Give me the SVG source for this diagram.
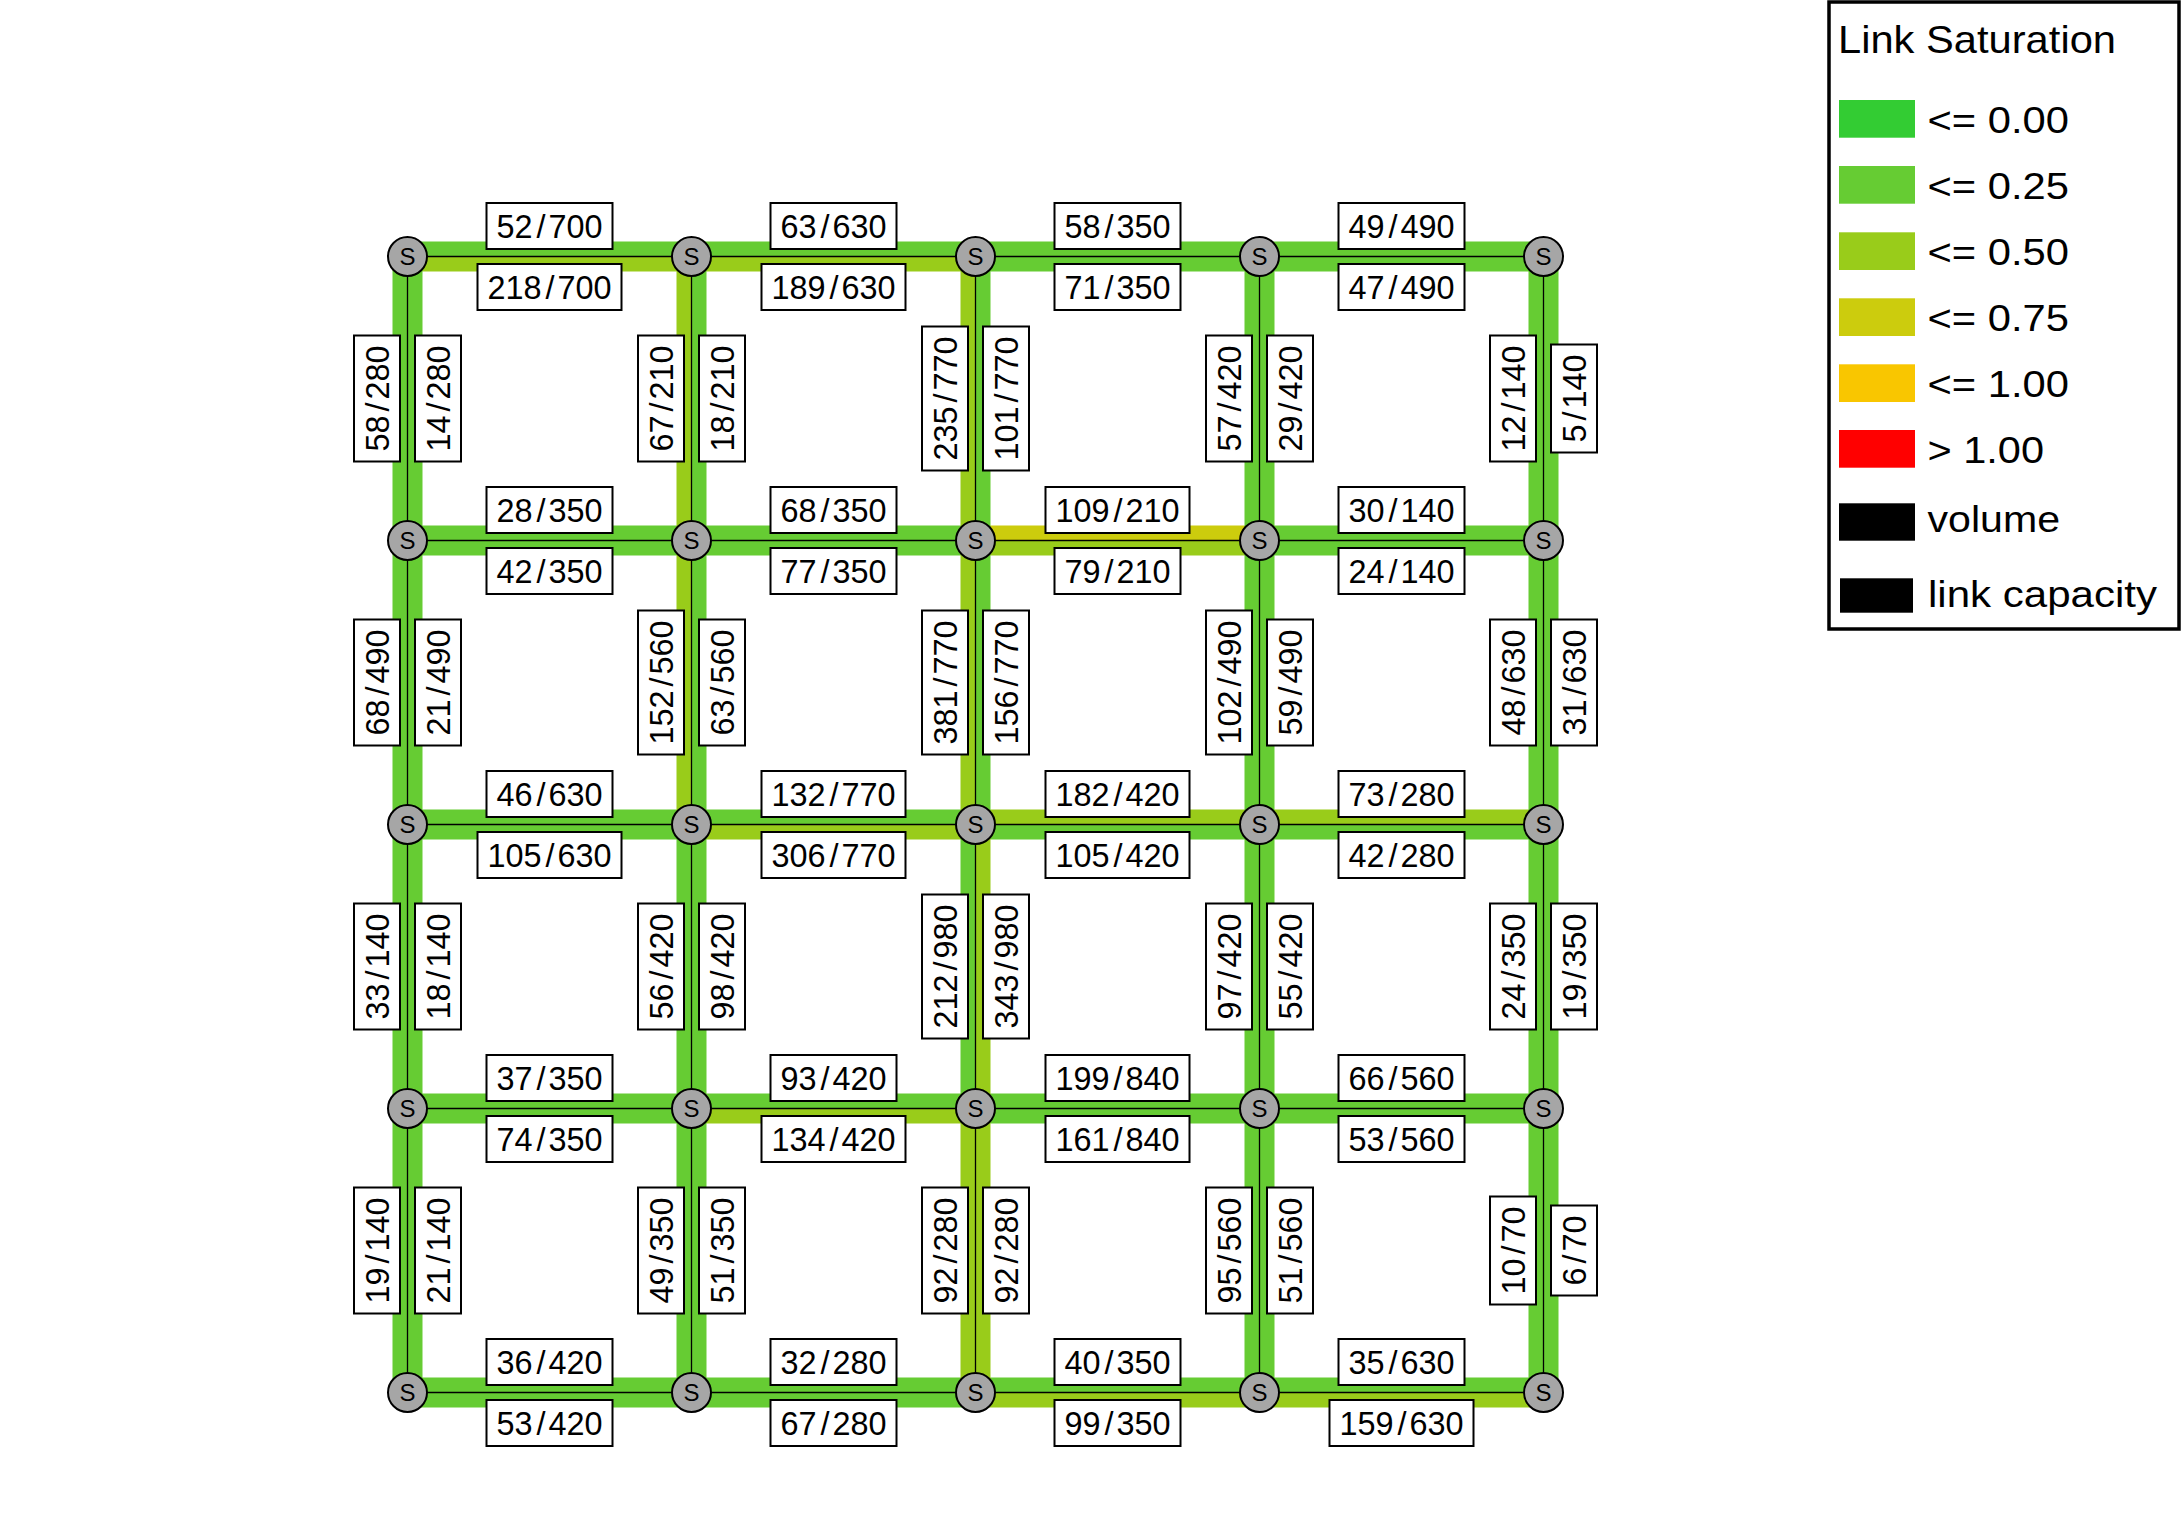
<svg xmlns="http://www.w3.org/2000/svg" width="2184" height="1534" viewBox="0 0 2184 1534">
<style>
text{font-family:"Liberation Sans",Arial,sans-serif;fill:#000}
.c1{fill:#66CC33}.c2{fill:#99CC1A}.c3{fill:#CCCC0D}
.lb rect{fill:#fff;stroke:#000;stroke-width:2}
.lb text{font-size:32.4px;text-anchor:middle}
.nd circle{fill:#a6a6a6;stroke:#000;stroke-width:2}
.nd text{font-size:24px;text-anchor:middle}
.lg text{font-size:37.5px}
.sw{width:76px;height:37.7px}
</style>
<rect width="2184" height="1534" fill="#fff"/>
<g id="connectors">
<g id="bands">
<!-- row 0 -->
<rect class="c1" x="407.5" y="241.5" width="284" height="15"/><rect class="c2" x="407.5" y="256.5" width="284" height="15"/>
<rect class="c1" x="691.5" y="241.5" width="284" height="15"/><rect class="c2" x="691.5" y="256.5" width="284" height="15"/>
<rect class="c1" x="975.5" y="241.5" width="284" height="15"/><rect class="c1" x="975.5" y="256.5" width="284" height="15"/>
<rect class="c1" x="1259.5" y="241.5" width="284" height="15"/><rect class="c1" x="1259.5" y="256.5" width="284" height="15"/>
<!-- row 1 -->
<rect class="c1" x="407.5" y="525.5" width="284" height="15"/><rect class="c1" x="407.5" y="540.5" width="284" height="15"/>
<rect class="c1" x="691.5" y="525.5" width="284" height="15"/><rect class="c1" x="691.5" y="540.5" width="284" height="15"/>
<rect class="c3" x="975.5" y="525.5" width="284" height="15"/><rect class="c2" x="975.5" y="540.5" width="284" height="15"/>
<rect class="c1" x="1259.5" y="525.5" width="284" height="15"/><rect class="c1" x="1259.5" y="540.5" width="284" height="15"/>
<!-- row 2 -->
<rect class="c1" x="407.5" y="809.5" width="284" height="15"/><rect class="c1" x="407.5" y="824.5" width="284" height="15"/>
<rect class="c1" x="691.5" y="809.5" width="284" height="15"/><rect class="c2" x="691.5" y="824.5" width="284" height="15"/>
<rect class="c2" x="975.5" y="809.5" width="284" height="15"/><rect class="c1" x="975.5" y="824.5" width="284" height="15"/>
<rect class="c2" x="1259.5" y="809.5" width="284" height="15"/><rect class="c1" x="1259.5" y="824.5" width="284" height="15"/>
<!-- row 3 -->
<rect class="c1" x="407.5" y="1093.5" width="284" height="15"/><rect class="c1" x="407.5" y="1108.5" width="284" height="15"/>
<rect class="c1" x="691.5" y="1093.5" width="284" height="15"/><rect class="c2" x="691.5" y="1108.5" width="284" height="15"/>
<rect class="c1" x="975.5" y="1093.5" width="284" height="15"/><rect class="c1" x="975.5" y="1108.5" width="284" height="15"/>
<rect class="c1" x="1259.5" y="1093.5" width="284" height="15"/><rect class="c1" x="1259.5" y="1108.5" width="284" height="15"/>
<!-- row 4 -->
<rect class="c1" x="407.5" y="1377.5" width="284" height="15"/><rect class="c1" x="407.5" y="1392.5" width="284" height="15"/>
<rect class="c1" x="691.5" y="1377.5" width="284" height="15"/><rect class="c1" x="691.5" y="1392.5" width="284" height="15"/>
<rect class="c1" x="975.5" y="1377.5" width="284" height="15"/><rect class="c2" x="975.5" y="1392.5" width="284" height="15"/>
<rect class="c1" x="1259.5" y="1377.5" width="284" height="15"/><rect class="c2" x="1259.5" y="1392.5" width="284" height="15"/>
<!-- verticals rows 0-1 -->
<rect class="c1" x="392.5" y="256.5" width="15" height="284"/><rect class="c1" x="407.5" y="256.5" width="15" height="284"/>
<rect class="c2" x="676.5" y="256.5" width="15" height="284"/><rect class="c1" x="691.5" y="256.5" width="15" height="284"/>
<rect class="c2" x="960.5" y="256.5" width="15" height="284"/><rect class="c1" x="975.5" y="256.5" width="15" height="284"/>
<rect class="c1" x="1244.5" y="256.5" width="15" height="284"/><rect class="c1" x="1259.5" y="256.5" width="15" height="284"/>
<rect class="c1" x="1528.5" y="256.5" width="15" height="284"/><rect class="c1" x="1543.5" y="256.5" width="15" height="284"/>
<!-- rows 1-2 -->
<rect class="c1" x="392.5" y="540.5" width="15" height="284"/><rect class="c1" x="407.5" y="540.5" width="15" height="284"/>
<rect class="c2" x="676.5" y="540.5" width="15" height="284"/><rect class="c1" x="691.5" y="540.5" width="15" height="284"/>
<rect class="c2" x="960.5" y="540.5" width="15" height="284"/><rect class="c1" x="975.5" y="540.5" width="15" height="284"/>
<rect class="c1" x="1244.5" y="540.5" width="15" height="284"/><rect class="c1" x="1259.5" y="540.5" width="15" height="284"/>
<rect class="c1" x="1528.5" y="540.5" width="15" height="284"/><rect class="c1" x="1543.5" y="540.5" width="15" height="284"/>
<!-- rows 2-3 -->
<rect class="c1" x="392.5" y="824.5" width="15" height="284"/><rect class="c1" x="407.5" y="824.5" width="15" height="284"/>
<rect class="c1" x="676.5" y="824.5" width="15" height="284"/><rect class="c1" x="691.5" y="824.5" width="15" height="284"/>
<rect class="c1" x="960.5" y="824.5" width="15" height="284"/><rect class="c2" x="975.5" y="824.5" width="15" height="284"/>
<rect class="c1" x="1244.5" y="824.5" width="15" height="284"/><rect class="c1" x="1259.5" y="824.5" width="15" height="284"/>
<rect class="c1" x="1528.5" y="824.5" width="15" height="284"/><rect class="c1" x="1543.5" y="824.5" width="15" height="284"/>
<!-- rows 3-4 -->
<rect class="c1" x="392.5" y="1108.5" width="15" height="284"/><rect class="c1" x="407.5" y="1108.5" width="15" height="284"/>
<rect class="c1" x="676.5" y="1108.5" width="15" height="284"/><rect class="c1" x="691.5" y="1108.5" width="15" height="284"/>
<rect class="c2" x="960.5" y="1108.5" width="15" height="284"/><rect class="c2" x="975.5" y="1108.5" width="15" height="284"/>
<rect class="c1" x="1244.5" y="1108.5" width="15" height="284"/><rect class="c1" x="1259.5" y="1108.5" width="15" height="284"/>
<rect class="c1" x="1528.5" y="1108.5" width="15" height="284"/><rect class="c1" x="1543.5" y="1108.5" width="15" height="284"/>
</g>
<path id="centerlines" fill="none" stroke="#000" stroke-width="1.3" d="M407.5 256.5H1543.5M407.5 540.5H1543.5M407.5 824.5H1543.5M407.5 1108.5H1543.5M407.5 1392.5H1543.5M407.5 256.5V1392.5M691.5 256.5V1392.5M975.5 256.5V1392.5M1259.5 256.5V1392.5M1543.5 256.5V1392.5"/>
<g id="labels" class="lb">
<!-- row 0 -->
<g transform="translate(549.5,226)"><rect x="-63" y="-23" width="126" height="46"/><text y="11.8">52<tspan dx="4">/</tspan><tspan dx="3">700</tspan></text></g>
<g transform="translate(549.5,287)"><rect x="-72" y="-23" width="144" height="46"/><text y="11.8">218<tspan dx="4">/</tspan><tspan dx="3">700</tspan></text></g>
<g transform="translate(833.5,226)"><rect x="-63" y="-23" width="126" height="46"/><text y="11.8">63<tspan dx="4">/</tspan><tspan dx="3">630</tspan></text></g>
<g transform="translate(833.5,287)"><rect x="-72" y="-23" width="144" height="46"/><text y="11.8">189<tspan dx="4">/</tspan><tspan dx="3">630</tspan></text></g>
<g transform="translate(1117.5,226)"><rect x="-63" y="-23" width="126" height="46"/><text y="11.8">58<tspan dx="4">/</tspan><tspan dx="3">350</tspan></text></g>
<g transform="translate(1117.5,287)"><rect x="-63" y="-23" width="126" height="46"/><text y="11.8">71<tspan dx="4">/</tspan><tspan dx="3">350</tspan></text></g>
<g transform="translate(1401.5,226)"><rect x="-63" y="-23" width="126" height="46"/><text y="11.8">49<tspan dx="4">/</tspan><tspan dx="3">490</tspan></text></g>
<g transform="translate(1401.5,287)"><rect x="-63" y="-23" width="126" height="46"/><text y="11.8">47<tspan dx="4">/</tspan><tspan dx="3">490</tspan></text></g>
<!-- row 1 -->
<g transform="translate(549.5,510)"><rect x="-63" y="-23" width="126" height="46"/><text y="11.8">28<tspan dx="4">/</tspan><tspan dx="3">350</tspan></text></g>
<g transform="translate(549.5,571)"><rect x="-63" y="-23" width="126" height="46"/><text y="11.8">42<tspan dx="4">/</tspan><tspan dx="3">350</tspan></text></g>
<g transform="translate(833.5,510)"><rect x="-63" y="-23" width="126" height="46"/><text y="11.8">68<tspan dx="4">/</tspan><tspan dx="3">350</tspan></text></g>
<g transform="translate(833.5,571)"><rect x="-63" y="-23" width="126" height="46"/><text y="11.8">77<tspan dx="4">/</tspan><tspan dx="3">350</tspan></text></g>
<g transform="translate(1117.5,510)"><rect x="-72" y="-23" width="144" height="46"/><text y="11.8">109<tspan dx="4">/</tspan><tspan dx="3">210</tspan></text></g>
<g transform="translate(1117.5,571)"><rect x="-63" y="-23" width="126" height="46"/><text y="11.8">79<tspan dx="4">/</tspan><tspan dx="3">210</tspan></text></g>
<g transform="translate(1401.5,510)"><rect x="-63" y="-23" width="126" height="46"/><text y="11.8">30<tspan dx="4">/</tspan><tspan dx="3">140</tspan></text></g>
<g transform="translate(1401.5,571)"><rect x="-63" y="-23" width="126" height="46"/><text y="11.8">24<tspan dx="4">/</tspan><tspan dx="3">140</tspan></text></g>
<!-- row 2 -->
<g transform="translate(549.5,794)"><rect x="-63" y="-23" width="126" height="46"/><text y="11.8">46<tspan dx="4">/</tspan><tspan dx="3">630</tspan></text></g>
<g transform="translate(549.5,855)"><rect x="-72" y="-23" width="144" height="46"/><text y="11.8">105<tspan dx="4">/</tspan><tspan dx="3">630</tspan></text></g>
<g transform="translate(833.5,794)"><rect x="-72" y="-23" width="144" height="46"/><text y="11.8">132<tspan dx="4">/</tspan><tspan dx="3">770</tspan></text></g>
<g transform="translate(833.5,855)"><rect x="-72" y="-23" width="144" height="46"/><text y="11.8">306<tspan dx="4">/</tspan><tspan dx="3">770</tspan></text></g>
<g transform="translate(1117.5,794)"><rect x="-72" y="-23" width="144" height="46"/><text y="11.8">182<tspan dx="4">/</tspan><tspan dx="3">420</tspan></text></g>
<g transform="translate(1117.5,855)"><rect x="-72" y="-23" width="144" height="46"/><text y="11.8">105<tspan dx="4">/</tspan><tspan dx="3">420</tspan></text></g>
<g transform="translate(1401.5,794)"><rect x="-63" y="-23" width="126" height="46"/><text y="11.8">73<tspan dx="4">/</tspan><tspan dx="3">280</tspan></text></g>
<g transform="translate(1401.5,855)"><rect x="-63" y="-23" width="126" height="46"/><text y="11.8">42<tspan dx="4">/</tspan><tspan dx="3">280</tspan></text></g>
<!-- row 3 -->
<g transform="translate(549.5,1078)"><rect x="-63" y="-23" width="126" height="46"/><text y="11.8">37<tspan dx="4">/</tspan><tspan dx="3">350</tspan></text></g>
<g transform="translate(549.5,1139)"><rect x="-63" y="-23" width="126" height="46"/><text y="11.8">74<tspan dx="4">/</tspan><tspan dx="3">350</tspan></text></g>
<g transform="translate(833.5,1078)"><rect x="-63" y="-23" width="126" height="46"/><text y="11.8">93<tspan dx="4">/</tspan><tspan dx="3">420</tspan></text></g>
<g transform="translate(833.5,1139)"><rect x="-72" y="-23" width="144" height="46"/><text y="11.8">134<tspan dx="4">/</tspan><tspan dx="3">420</tspan></text></g>
<g transform="translate(1117.5,1078)"><rect x="-72" y="-23" width="144" height="46"/><text y="11.8">199<tspan dx="4">/</tspan><tspan dx="3">840</tspan></text></g>
<g transform="translate(1117.5,1139)"><rect x="-72" y="-23" width="144" height="46"/><text y="11.8">161<tspan dx="4">/</tspan><tspan dx="3">840</tspan></text></g>
<g transform="translate(1401.5,1078)"><rect x="-63" y="-23" width="126" height="46"/><text y="11.8">66<tspan dx="4">/</tspan><tspan dx="3">560</tspan></text></g>
<g transform="translate(1401.5,1139)"><rect x="-63" y="-23" width="126" height="46"/><text y="11.8">53<tspan dx="4">/</tspan><tspan dx="3">560</tspan></text></g>
<!-- row 4 -->
<g transform="translate(549.5,1362)"><rect x="-63" y="-23" width="126" height="46"/><text y="11.8">36<tspan dx="4">/</tspan><tspan dx="3">420</tspan></text></g>
<g transform="translate(549.5,1423)"><rect x="-63" y="-23" width="126" height="46"/><text y="11.8">53<tspan dx="4">/</tspan><tspan dx="3">420</tspan></text></g>
<g transform="translate(833.5,1362)"><rect x="-63" y="-23" width="126" height="46"/><text y="11.8">32<tspan dx="4">/</tspan><tspan dx="3">280</tspan></text></g>
<g transform="translate(833.5,1423)"><rect x="-63" y="-23" width="126" height="46"/><text y="11.8">67<tspan dx="4">/</tspan><tspan dx="3">280</tspan></text></g>
<g transform="translate(1117.5,1362)"><rect x="-63" y="-23" width="126" height="46"/><text y="11.8">40<tspan dx="4">/</tspan><tspan dx="3">350</tspan></text></g>
<g transform="translate(1117.5,1423)"><rect x="-63" y="-23" width="126" height="46"/><text y="11.8">99<tspan dx="4">/</tspan><tspan dx="3">350</tspan></text></g>
<g transform="translate(1401.5,1362)"><rect x="-63" y="-23" width="126" height="46"/><text y="11.8">35<tspan dx="4">/</tspan><tspan dx="3">630</tspan></text></g>
<g transform="translate(1401.5,1423)"><rect x="-72" y="-23" width="144" height="46"/><text y="11.8">159<tspan dx="4">/</tspan><tspan dx="3">630</tspan></text></g>
<!-- verticals rows 0-1 -->
<g transform="translate(377,398.5) rotate(-90)"><rect x="-63" y="-23" width="126" height="46"/><text y="11.8">58<tspan dx="4">/</tspan><tspan dx="3">280</tspan></text></g>
<g transform="translate(438,398.5) rotate(-90)"><rect x="-63" y="-23" width="126" height="46"/><text y="11.8">14<tspan dx="4">/</tspan><tspan dx="3">280</tspan></text></g>
<g transform="translate(661,398.5) rotate(-90)"><rect x="-63" y="-23" width="126" height="46"/><text y="11.8">67<tspan dx="4">/</tspan><tspan dx="3">210</tspan></text></g>
<g transform="translate(722,398.5) rotate(-90)"><rect x="-63" y="-23" width="126" height="46"/><text y="11.8">18<tspan dx="4">/</tspan><tspan dx="3">210</tspan></text></g>
<g transform="translate(945,398.5) rotate(-90)"><rect x="-72" y="-23" width="144" height="46"/><text y="11.8">235<tspan dx="4">/</tspan><tspan dx="3">770</tspan></text></g>
<g transform="translate(1006,398.5) rotate(-90)"><rect x="-72" y="-23" width="144" height="46"/><text y="11.8">101<tspan dx="4">/</tspan><tspan dx="3">770</tspan></text></g>
<g transform="translate(1229,398.5) rotate(-90)"><rect x="-63" y="-23" width="126" height="46"/><text y="11.8">57<tspan dx="4">/</tspan><tspan dx="3">420</tspan></text></g>
<g transform="translate(1290,398.5) rotate(-90)"><rect x="-63" y="-23" width="126" height="46"/><text y="11.8">29<tspan dx="4">/</tspan><tspan dx="3">420</tspan></text></g>
<g transform="translate(1513,398.5) rotate(-90)"><rect x="-63" y="-23" width="126" height="46"/><text y="11.8">12<tspan dx="4">/</tspan><tspan dx="3">140</tspan></text></g>
<g transform="translate(1574,398.5) rotate(-90)"><rect x="-54" y="-23" width="108" height="46"/><text y="11.8">5<tspan dx="4">/</tspan><tspan dx="3">140</tspan></text></g>
<!-- rows 1-2 -->
<g transform="translate(377,682.5) rotate(-90)"><rect x="-63" y="-23" width="126" height="46"/><text y="11.8">68<tspan dx="4">/</tspan><tspan dx="3">490</tspan></text></g>
<g transform="translate(438,682.5) rotate(-90)"><rect x="-63" y="-23" width="126" height="46"/><text y="11.8">21<tspan dx="4">/</tspan><tspan dx="3">490</tspan></text></g>
<g transform="translate(661,682.5) rotate(-90)"><rect x="-72" y="-23" width="144" height="46"/><text y="11.8">152<tspan dx="4">/</tspan><tspan dx="3">560</tspan></text></g>
<g transform="translate(722,682.5) rotate(-90)"><rect x="-63" y="-23" width="126" height="46"/><text y="11.8">63<tspan dx="4">/</tspan><tspan dx="3">560</tspan></text></g>
<g transform="translate(945,682.5) rotate(-90)"><rect x="-72" y="-23" width="144" height="46"/><text y="11.8">381<tspan dx="4">/</tspan><tspan dx="3">770</tspan></text></g>
<g transform="translate(1006,682.5) rotate(-90)"><rect x="-72" y="-23" width="144" height="46"/><text y="11.8">156<tspan dx="4">/</tspan><tspan dx="3">770</tspan></text></g>
<g transform="translate(1229,682.5) rotate(-90)"><rect x="-72" y="-23" width="144" height="46"/><text y="11.8">102<tspan dx="4">/</tspan><tspan dx="3">490</tspan></text></g>
<g transform="translate(1290,682.5) rotate(-90)"><rect x="-63" y="-23" width="126" height="46"/><text y="11.8">59<tspan dx="4">/</tspan><tspan dx="3">490</tspan></text></g>
<g transform="translate(1513,682.5) rotate(-90)"><rect x="-63" y="-23" width="126" height="46"/><text y="11.8">48<tspan dx="4">/</tspan><tspan dx="3">630</tspan></text></g>
<g transform="translate(1574,682.5) rotate(-90)"><rect x="-63" y="-23" width="126" height="46"/><text y="11.8">31<tspan dx="4">/</tspan><tspan dx="3">630</tspan></text></g>
<!-- rows 2-3 -->
<g transform="translate(377,966.5) rotate(-90)"><rect x="-63" y="-23" width="126" height="46"/><text y="11.8">33<tspan dx="4">/</tspan><tspan dx="3">140</tspan></text></g>
<g transform="translate(438,966.5) rotate(-90)"><rect x="-63" y="-23" width="126" height="46"/><text y="11.8">18<tspan dx="4">/</tspan><tspan dx="3">140</tspan></text></g>
<g transform="translate(661,966.5) rotate(-90)"><rect x="-63" y="-23" width="126" height="46"/><text y="11.8">56<tspan dx="4">/</tspan><tspan dx="3">420</tspan></text></g>
<g transform="translate(722,966.5) rotate(-90)"><rect x="-63" y="-23" width="126" height="46"/><text y="11.8">98<tspan dx="4">/</tspan><tspan dx="3">420</tspan></text></g>
<g transform="translate(945,966.5) rotate(-90)"><rect x="-72" y="-23" width="144" height="46"/><text y="11.8">212<tspan dx="4">/</tspan><tspan dx="3">980</tspan></text></g>
<g transform="translate(1006,966.5) rotate(-90)"><rect x="-72" y="-23" width="144" height="46"/><text y="11.8">343<tspan dx="4">/</tspan><tspan dx="3">980</tspan></text></g>
<g transform="translate(1229,966.5) rotate(-90)"><rect x="-63" y="-23" width="126" height="46"/><text y="11.8">97<tspan dx="4">/</tspan><tspan dx="3">420</tspan></text></g>
<g transform="translate(1290,966.5) rotate(-90)"><rect x="-63" y="-23" width="126" height="46"/><text y="11.8">55<tspan dx="4">/</tspan><tspan dx="3">420</tspan></text></g>
<g transform="translate(1513,966.5) rotate(-90)"><rect x="-63" y="-23" width="126" height="46"/><text y="11.8">24<tspan dx="4">/</tspan><tspan dx="3">350</tspan></text></g>
<g transform="translate(1574,966.5) rotate(-90)"><rect x="-63" y="-23" width="126" height="46"/><text y="11.8">19<tspan dx="4">/</tspan><tspan dx="3">350</tspan></text></g>
<!-- rows 3-4 -->
<g transform="translate(377,1250.5) rotate(-90)"><rect x="-63" y="-23" width="126" height="46"/><text y="11.8">19<tspan dx="4">/</tspan><tspan dx="3">140</tspan></text></g>
<g transform="translate(438,1250.5) rotate(-90)"><rect x="-63" y="-23" width="126" height="46"/><text y="11.8">21<tspan dx="4">/</tspan><tspan dx="3">140</tspan></text></g>
<g transform="translate(661,1250.5) rotate(-90)"><rect x="-63" y="-23" width="126" height="46"/><text y="11.8">49<tspan dx="4">/</tspan><tspan dx="3">350</tspan></text></g>
<g transform="translate(722,1250.5) rotate(-90)"><rect x="-63" y="-23" width="126" height="46"/><text y="11.8">51<tspan dx="4">/</tspan><tspan dx="3">350</tspan></text></g>
<g transform="translate(945,1250.5) rotate(-90)"><rect x="-63" y="-23" width="126" height="46"/><text y="11.8">92<tspan dx="4">/</tspan><tspan dx="3">280</tspan></text></g>
<g transform="translate(1006,1250.5) rotate(-90)"><rect x="-63" y="-23" width="126" height="46"/><text y="11.8">92<tspan dx="4">/</tspan><tspan dx="3">280</tspan></text></g>
<g transform="translate(1229,1250.5) rotate(-90)"><rect x="-63" y="-23" width="126" height="46"/><text y="11.8">95<tspan dx="4">/</tspan><tspan dx="3">560</tspan></text></g>
<g transform="translate(1290,1250.5) rotate(-90)"><rect x="-63" y="-23" width="126" height="46"/><text y="11.8">51<tspan dx="4">/</tspan><tspan dx="3">560</tspan></text></g>
<g transform="translate(1513,1250.5) rotate(-90)"><rect x="-54" y="-23" width="108" height="46"/><text y="11.8">10<tspan dx="4">/</tspan><tspan dx="3">70</tspan></text></g>
<g transform="translate(1574,1250.5) rotate(-90)"><rect x="-45" y="-23" width="90" height="46"/><text y="11.8">6<tspan dx="4">/</tspan><tspan dx="3">70</tspan></text></g>
</g>
</g>
<g id="nodes">
<g id="n00" class="nd"><circle cx="407.5" cy="256.5" r="19.5"/><text x="407.5" y="265.2">S</text></g>
<g id="n10" class="nd"><circle cx="691.5" cy="256.5" r="19.5"/><text x="691.5" y="265.2">S</text></g>
<g id="n20" class="nd"><circle cx="975.5" cy="256.5" r="19.5"/><text x="975.5" y="265.2">S</text></g>
<g id="n30" class="nd"><circle cx="1259.5" cy="256.5" r="19.5"/><text x="1259.5" y="265.2">S</text></g>
<g id="n40" class="nd"><circle cx="1543.5" cy="256.5" r="19.5"/><text x="1543.5" y="265.2">S</text></g>
<g id="n01" class="nd"><circle cx="407.5" cy="540.5" r="19.5"/><text x="407.5" y="549.2">S</text></g>
<g id="n11" class="nd"><circle cx="691.5" cy="540.5" r="19.5"/><text x="691.5" y="549.2">S</text></g>
<g id="n21" class="nd"><circle cx="975.5" cy="540.5" r="19.5"/><text x="975.5" y="549.2">S</text></g>
<g id="n31" class="nd"><circle cx="1259.5" cy="540.5" r="19.5"/><text x="1259.5" y="549.2">S</text></g>
<g id="n41" class="nd"><circle cx="1543.5" cy="540.5" r="19.5"/><text x="1543.5" y="549.2">S</text></g>
<g id="n02" class="nd"><circle cx="407.5" cy="824.5" r="19.5"/><text x="407.5" y="833.2">S</text></g>
<g id="n12" class="nd"><circle cx="691.5" cy="824.5" r="19.5"/><text x="691.5" y="833.2">S</text></g>
<g id="n22" class="nd"><circle cx="975.5" cy="824.5" r="19.5"/><text x="975.5" y="833.2">S</text></g>
<g id="n32" class="nd"><circle cx="1259.5" cy="824.5" r="19.5"/><text x="1259.5" y="833.2">S</text></g>
<g id="n42" class="nd"><circle cx="1543.5" cy="824.5" r="19.5"/><text x="1543.5" y="833.2">S</text></g>
<g id="n03" class="nd"><circle cx="407.5" cy="1108.5" r="19.5"/><text x="407.5" y="1117.2">S</text></g>
<g id="n13" class="nd"><circle cx="691.5" cy="1108.5" r="19.5"/><text x="691.5" y="1117.2">S</text></g>
<g id="n23" class="nd"><circle cx="975.5" cy="1108.5" r="19.5"/><text x="975.5" y="1117.2">S</text></g>
<g id="n33" class="nd"><circle cx="1259.5" cy="1108.5" r="19.5"/><text x="1259.5" y="1117.2">S</text></g>
<g id="n43" class="nd"><circle cx="1543.5" cy="1108.5" r="19.5"/><text x="1543.5" y="1117.2">S</text></g>
<g id="n04" class="nd"><circle cx="407.5" cy="1392.5" r="19.5"/><text x="407.5" y="1401.2">S</text></g>
<g id="n14" class="nd"><circle cx="691.5" cy="1392.5" r="19.5"/><text x="691.5" y="1401.2">S</text></g>
<g id="n24" class="nd"><circle cx="975.5" cy="1392.5" r="19.5"/><text x="975.5" y="1401.2">S</text></g>
<g id="n34" class="nd"><circle cx="1259.5" cy="1392.5" r="19.5"/><text x="1259.5" y="1401.2">S</text></g>
<g id="n44" class="nd"><circle cx="1543.5" cy="1392.5" r="19.5"/><text x="1543.5" y="1401.2">S</text></g>
</g>
<g id="legend" class="lg">
<rect x="1829" y="2" width="350" height="627" fill="#fff" stroke="#000" stroke-width="3.5"/>
<text x="1838" y="52.7" style="font-size:38.5px" textLength="278" lengthAdjust="spacingAndGlyphs">Link Saturation</text>
<rect x="1839" y="100" width="76" height="37.7" fill="#33CC33"/>
<rect x="1839" y="166" width="76" height="37.7" fill="#66CC33"/>
<rect x="1839" y="232.3" width="76" height="37.7" fill="#99CC1A"/>
<rect x="1839" y="298.3" width="76" height="37.7" fill="#CCCC0D"/>
<rect x="1839" y="364.3" width="76" height="37.7" fill="#F9C600"/>
<rect x="1839" y="430" width="76" height="37.7" fill="#FF0000"/>
<rect x="1839" y="503.3" width="76" height="37.4" fill="#000"/>
<rect x="1840" y="578.3" width="73" height="34.4" fill="#000"/>
<text x="1927.5" y="132.7" textLength="141.5" lengthAdjust="spacingAndGlyphs">&lt;= 0.00</text>
<text x="1927.5" y="198.7" textLength="141.5" lengthAdjust="spacingAndGlyphs">&lt;= 0.25</text>
<text x="1927.5" y="265" textLength="141.5" lengthAdjust="spacingAndGlyphs">&lt;= 0.50</text>
<text x="1927.5" y="331" textLength="141.5" lengthAdjust="spacingAndGlyphs">&lt;= 0.75</text>
<text x="1927.5" y="397" textLength="141.5" lengthAdjust="spacingAndGlyphs">&lt;= 1.00</text>
<text x="1927.5" y="462.7" textLength="116.5" lengthAdjust="spacingAndGlyphs">&gt; 1.00</text>
<text x="1927.5" y="531.7" textLength="132.5" lengthAdjust="spacingAndGlyphs">volume</text>
<text x="1928" y="606.7" textLength="229" lengthAdjust="spacingAndGlyphs">link capacity</text>
</g>
</svg>
